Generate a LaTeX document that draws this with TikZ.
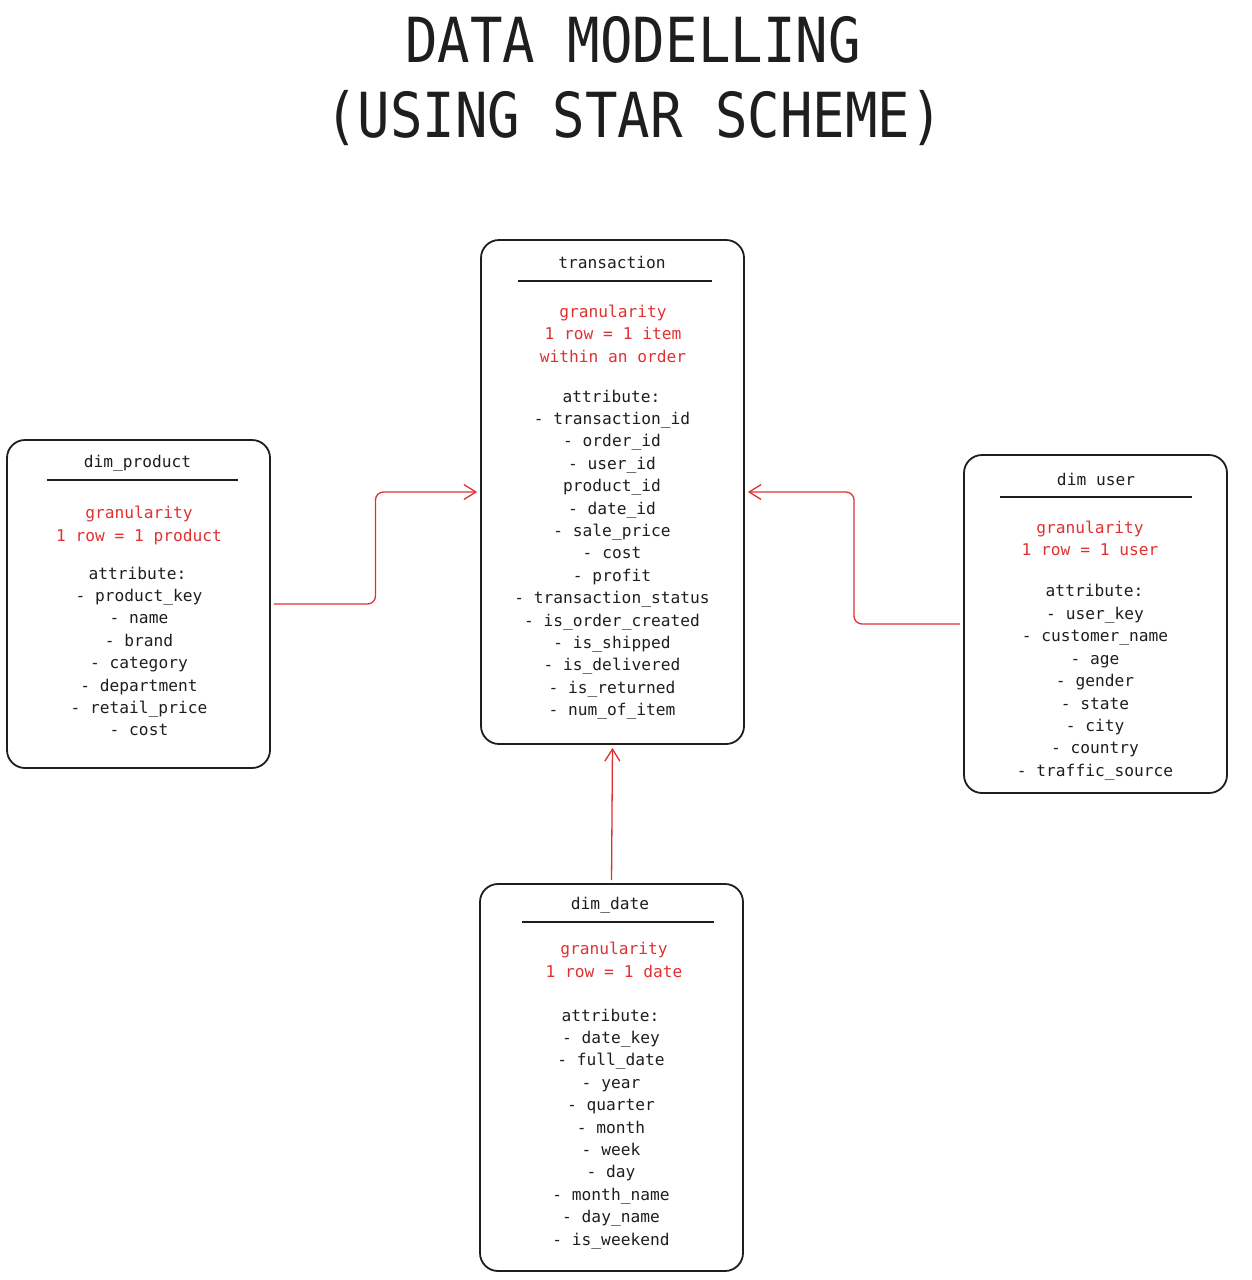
\documentclass[tikz,border=0pt]{standalone}
\usepackage{fontspec}
\setmonofont{DejaVu Sans Mono}
\newfontfamily\titlefont{DejaVu Sans Mono}
\usetikzlibrary{arrows.meta,calc}
\definecolor{ink}{HTML}{1E1E1E}
\definecolor{exred}{HTML}{E03131}
\tikzset{
  tbl/.style={draw=ink, line width=1.8pt, rounded corners=18pt, minimum width=263pt, inner sep=0pt},
  hdr/.style={draw=ink, line width=2pt},
  txt/.style={font=\fontsize{16.2}{19}\ttfamily, text=ink, inner sep=0pt, text height=14pt, text depth=1.2pt},
  gran/.style={txt, text=exred},
  ttl/.style={font=\titlefont\fontsize{54}{60}\selectfont, text=ink, inner sep=0pt, anchor=base},
  rel/.style={draw=exred, line width=1.3pt, -{Straight Barb[length=12pt,width=15pt]}, rounded corners=8pt, shorten <=3pt, shorten >=3pt},
}
\begin{document}
\begin{tikzpicture}[x=1pt,y=-1pt]
\useasboundingbox (0,0) rectangle (1251,1280);

% title
\node[ttl] (t1) at (633,62) {\scalebox{1}[1.15]{DATA MODELLING}};
\node[ttl] (t2) at (634,137) {\scalebox{1}[1.15]{(USING STAR SCHEME)}};

% boxes
\node[tbl, minimum height=504pt] (trans) at (612.5,492) {};
\node[tbl, minimum height=328pt] (prod) at (138.5,604) {};
\node[tbl, minimum height=338pt] (user) at (1095.5,624) {};
\node[tbl, minimum height=387pt] (date) at (611.5,1077.5) {};

% transaction
\node[txt] (tr0) at (612,262) {transaction};
\draw[hdr] (518,281) -- (712,281);
\node[gran] (trg1) at (613,311) {granularity};
\node[gran] (trg2) at (613,333.5) {1 row = 1 item};
\node[gran] (trg3) at (613,356) {within an order};
\node[txt] (tra) at (611.5,396) {attribute:};
\foreach \t [count=\i from 0] in {- transaction\_id,- order\_id,- user\_id,product\_id,- date\_id,- sale\_price,- cost,- profit,- transaction\_status,- is\_order\_created,- is\_shipped,- is\_delivered,- is\_returned,- num\_of\_item}
  \node[txt] (tr\i) at (612,418+\i*22.4) {\t};

% dim_product
\node[txt] (pr0) at (137.5,461) {dim\_product};
\draw[hdr] (47,480) -- (238,480);
\node[gran] (prg1) at (139,512) {granularity};
\node[gran] (prg2) at (139,535) {1 row = 1 product};
\node[txt] (pra) at (137.5,573) {attribute:};
\foreach \t [count=\i from 0] in {- product\_key,- name,- brand,- category,- department,- retail\_price,- cost}
  \node[txt] (pp\i) at (139,595+\i*22.4) {\t};

% dim user
\node[txt] (us0) at (1096,479) {dim user};
\draw[hdr] (1000,497) -- (1192,497);
\node[gran] (usg1) at (1090,527) {granularity};
\node[gran] (usg2) at (1090,549) {1 row = 1 user};
\node[txt] (usa) at (1094.5,590) {attribute:};
\foreach \t [count=\i from 0] in {- user\_key,- customer\_name,- age,- gender,- state,- city,- country,- traffic\_source}
  \node[txt] (uu\i) at (1095,613+\i*22.4) {\t};

% dim_date
\node[txt] (da0) at (610,903) {dim\_date};
\draw[hdr] (522,922) -- (714,922);
\node[gran] (dag1) at (614,948) {granularity};
\node[gran] (dag2) at (614,971) {1 row = 1 date};
\node[txt] (daa) at (610.5,1015) {attribute:};
\foreach \t [count=\i from 0] in {- date\_key,- full\_date,- year,- quarter,- month,- week,- day,- month\_name,- day\_name,- is\_weekend}
  \node[txt] (dd\i) at (611,1037+\i*22.4) {\t};

% connectors
\coordinate (mpl) at ($(prod.east)!0.5!(trans.west)$);
\coordinate (mpr) at ($(user.west)!0.5!(trans.east)$);
\draw[rel] (prod.east) -| (mpl) |- (trans.west);
\draw[rel] (user.west) -| (mpr) |- (trans.east);
\draw[rel] (date.north) -- (trans.south);
\end{tikzpicture}
\end{document}
